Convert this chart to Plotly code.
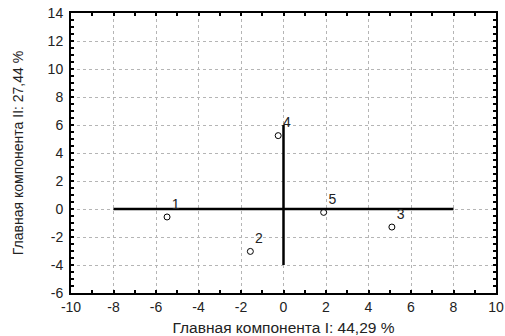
import plotly.graph_objects as go

labels = ["1", "2", "3", "4", "5"]
pc1 = [-5.48, -1.56, 5.10, -0.25, 1.89]
pc2 = [-0.57, -3.03, -1.29, 5.24, -0.24]

hline_x = [-8, 8]
hline_y = [0, 0]
vline_x = [0, 0]
vline_y = [-4, 6]

x_ticks = [-10, -8, -6, -4, -2, 0, 2, 4, 6, 8, 10]
x_ticktext = ["-10", "-8", "-6", "-4", "-2", "0", "2", "4", "6", "8", "10"]
y_ticks = [-6, -4, -2, 0, 2, 4, 6, 8, 10, 12, 14]
y_ticktext = ["-6", "-4", "-2", "0", "2", "4", "6", "8", "10", "12", "14"]

FONT = "Liberation Sans, Arial"

fig = go.Figure()
fig.add_trace(go.Scatter(x=hline_x, y=hline_y, mode="lines",
                         line=dict(color="black", width=2.5), showlegend=False))
fig.add_trace(go.Scatter(x=vline_x, y=vline_y, mode="lines",
                         line=dict(color="black", width=2.5), showlegend=False))
fig.add_trace(go.Scatter(x=pc1, y=pc2, mode="markers+text", text=labels,
                         textposition="top right",
                         textfont=dict(family=FONT, size=14, color="#222"),
                         marker=dict(symbol="circle-open", size=6, color="black",
                                     line=dict(width=1, color="black")),
                         showlegend=False))

axis_common = dict(
    showline=True, linecolor="black", linewidth=2, mirror="allticks",
    ticks="inside", ticklen=3, tickwidth=2, tickcolor="black",
    showgrid=True, gridcolor="#b5b5b5", griddash="dot", gridwidth=1,
    zeroline=False, automargin=False,
    tickfont=dict(family=FONT, size=14, color="#222"),
)

fig.update_layout(
    width=505, height=336,
    margin=dict(l=71, r=9, t=13, b=43),
    plot_bgcolor="white", paper_bgcolor="white",
    xaxis=dict(range=[-10, 10], tickmode="array", tickvals=x_ticks, ticktext=x_ticktext,
               minor=dict(dtick=1, tick0=0, ticks="inside", ticklen=3, tickcolor="black", showgrid=False),
               title=dict(text="Главная компонента I: 44,29 %", standoff=8,
                          font=dict(family=FONT, size=15.5, color="#222")),
               **axis_common),
    yaxis=dict(range=[-6, 14], tickmode="array", tickvals=y_ticks, ticktext=y_ticktext,
               ticklabelstandoff=3,
               minor=dict(dtick=0.5, tick0=0, ticks="inside", ticklen=3, tickcolor="black", showgrid=False),
               title=dict(text="Главная компонента II: 27,44 %", standoff=21,
                          font=dict(family=FONT, size=14, color="#222")),
               **axis_common),
)

fig.write_html("out.html", config={"displayModeBar": False},
               post_script="document.body.style.margin='0';document.body.style.overflow='hidden';")
